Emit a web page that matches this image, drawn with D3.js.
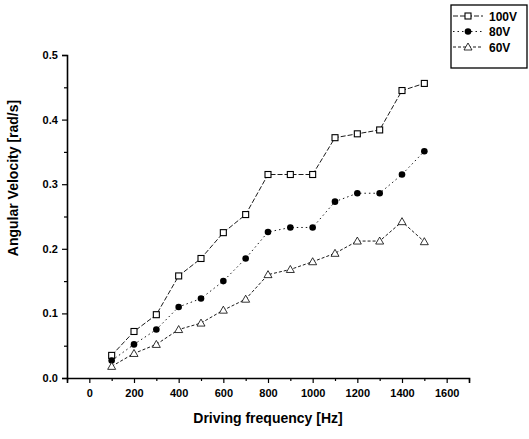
<!DOCTYPE html>
<html>
<head>
<meta charset="utf-8">
<script src="https://cdn.jsdelivr.net/npm/d3@7"></script>
<style>
body{margin:0;background:#fff;}
text{font-family:"Liberation Sans",Arial,sans-serif;fill:#000;}
</style>
</head>
<body>
<svg id="chart" width="529" height="439"></svg>
<script>
// driving frequency (Hz)
var freq = [100,200,300,400,500,600,700,800,900,1000,1100,1200,1300,1400,1500];
var v100 = [0.035,0.072,0.098,0.158,0.185,0.225,0.253,0.315,0.315,0.315,0.372,0.378,0.384,0.445,0.456];
var v80  = [0.027,0.052,0.075,0.110,0.123,0.150,0.185,0.226,0.233,0.233,0.273,0.286,0.286,0.315,0.351];
var v60  = [0.018,0.038,0.052,0.075,0.085,0.105,0.122,0.160,0.168,0.180,0.193,0.212,0.212,0.242,0.211];
var seriesNames = ["100V","80V","60V"];
var xTicks = [0,200,400,600,800,1000,1200,1400,1600];
var yTicks = [0.0,0.1,0.2,0.3,0.4,0.5];

var svg = d3.select("#chart");
var x = d3.scaleLinear().domain([-100,1700]).range([67,469]);
var y = d3.scaleLinear().domain([0,0.5]).range([378,55]);

var series = [
  {name:seriesNames[0], vals:v100, dash:"5,2", marker:"square"},
  {name:seriesNames[1], vals:v80, dash:"1.5,3", marker:"circle"},
  {name:seriesNames[2], vals:v60, dash:"3,2", marker:"triangle"}
];

// axes
var xAxis = d3.axisBottom(x).tickValues(xTicks).tickSize(5).tickFormat(d3.format("d"));
var xMinor = d3.axisBottom(x).tickValues(d3.range(-100,1701,100).filter(function(d){return d%200!=0;})).tickSize(3).tickFormat("");
var yAxis = d3.axisLeft(y).tickValues(yTicks).tickSize(5).tickFormat(d3.format(".1f"));
var yMinor = d3.axisLeft(y).tickValues(d3.range(0.05,0.5,0.1)).tickSize(3).tickFormat("");

function styleAxis(g){
  g.select(".domain").attr("stroke","#000").attr("stroke-width",1.6);
  g.selectAll(".tick line").attr("stroke","#000").attr("stroke-width",1.2);
  g.selectAll(".tick text").style("font-size","11px").style("font-weight","bold").attr("fill","#000");
}
var gx = svg.append("g").attr("transform","translate(0,378)").call(xAxis).call(styleAxis);
gx.selectAll(".tick text").attr("dy","1.0em");
var gxm = svg.append("g").attr("transform","translate(0,378)").call(xMinor).call(styleAxis);
gxm.select(".domain").remove();
var gy = svg.append("g").attr("transform","translate(67,0)").call(yAxis).call(styleAxis);
gy.selectAll(".tick text").attr("dx","-0.1em");
var gym = svg.append("g").attr("transform","translate(67,0)").call(yMinor).call(styleAxis);
gym.select(".domain").remove();

svg.append("text").attr("x",268).attr("y",423).attr("text-anchor","middle")
  .style("font-size","14px").style("font-weight","bold").text("Driving frequency [Hz]");
svg.append("text").attr("transform","translate(18,178) rotate(-90)").attr("text-anchor","middle")
  .style("font-size","14px").style("font-weight","bold").text("Angular Velocity [rad/s]");

function drawMarker(g, type, cx, cy){
  if(type=="square"){
    g.append("rect").attr("x",cx-3).attr("y",cy-3).attr("width",6).attr("height",6)
      .attr("fill","#fff").attr("stroke","#000").attr("stroke-width",1.1);
  } else if(type=="circle"){
    g.append("circle").attr("cx",cx).attr("cy",cy).attr("r",3.3).attr("fill","#000");
  } else {
    g.append("path").attr("d","M"+cx+","+(cy-4)+"L"+(cx+4)+","+(cy+3)+"L"+(cx-4)+","+(cy+3)+"Z")
      .attr("fill","#fff").attr("stroke","#000").attr("stroke-width",0.8);
  }
}

var line = d3.line().x(function(d){return x(d[0]);}).y(function(d){return y(d[1]);});
series.forEach(function(s){
  var pts = freq.map(function(f,i){return [f,s.vals[i]];});
  svg.append("path").datum(pts).attr("d",line).attr("fill","none")
    .attr("stroke","#000").attr("stroke-width",0.9).attr("stroke-dasharray",s.dash);
  var g = svg.append("g");
  pts.forEach(function(p){ drawMarker(g, s.marker, x(p[0]), y(p[1])); });
});

// legend
var lg = svg.append("g");
lg.append("rect").attr("x",451).attr("y",5).attr("width",76).attr("height",63)
  .attr("fill","#fff").attr("stroke","#000").attr("stroke-width",1.3);
series.forEach(function(s,i){
  var ly = 16 + i*15.5;
  lg.append("line").attr("x1",453).attr("x2",483).attr("y1",ly).attr("y2",ly)
    .attr("stroke","#000").attr("stroke-width",0.9).attr("stroke-dasharray",s.dash);
  drawMarker(lg, s.marker, 468, ly);
  lg.append("text").attr("x",489).attr("y",ly+4.5).style("font-size","12px").style("font-weight","bold").text(s.name);
});
</script>
</body>
</html>
